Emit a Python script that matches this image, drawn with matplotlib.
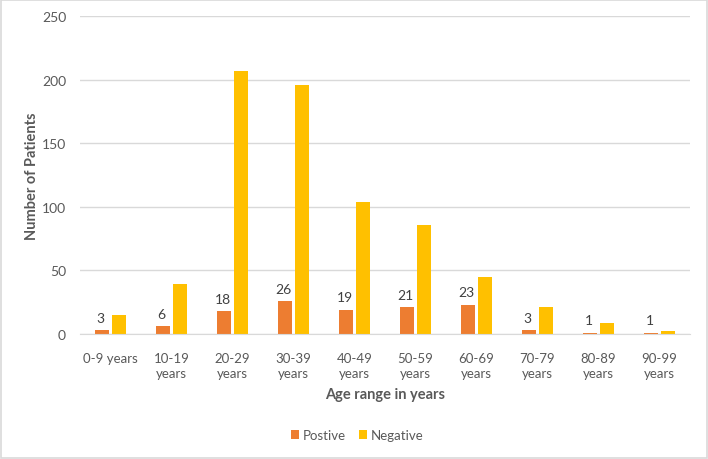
import numpy as np
import matplotlib
matplotlib.use("Agg")
import matplotlib.pyplot as plt
from matplotlib.patches import Rectangle

# data
categories = ["0-9 years", "10-19\nyears", "20-29\nyears", "30-39\nyears", "40-49\nyears",
              "50-59\nyears", "60-69\nyears", "70-79\nyears", "80-89\nyears", "90-99\nyears"]
positive = [3, 6, 18, 26, 19, 21, 23, 3, 1, 1]
negative = [15, 39, 207, 196, 104, 86, 45, 21, 9, 2]

plt.rcParams['font.family'] = ['Lato', 'DejaVu Sans']
gray = "#595959"

fig = plt.figure(figsize=(7.08, 4.6), dpi=100)
ax = fig.add_axes([80/708, 125/460, 610/708, 318/460])

x = np.arange(len(categories))
w = 0.23
b1 = ax.bar(x - 0.145, positive, w, color="#ED7D31", label="Postive", zorder=3)
b2 = ax.bar(x + 0.145, negative, w, color="#FFC000", label="Negative", zorder=3)

# labels on the positive bars only
for xi, v in zip(x, positive):
    ax.text(xi - 0.145 - 0.02, v + 5, str(v), ha="center", va="bottom",
            fontsize=10, color="#404040")

ax.set_xlim(-0.5, len(categories) - 0.5)
ax.set_ylim(0, 250)
ax.set_yticks(range(0, 251, 50))
ax.set_xticks(x)
ax.set_xticklabels(categories, linespacing=1.25)
ax.tick_params(axis="both", length=0, colors=gray, labelsize=9.5)
ax.tick_params(axis="x", pad=13)
ax.tick_params(axis="y", labelsize=10, pad=10)
ax.grid(axis="y", color="#D9D9D9", linewidth=1, zorder=0)
for s in ["top", "right", "left"]:
    ax.spines[s].set_visible(False)
ax.spines["bottom"].set_color("#D9D9D9")
ax.spines["bottom"].set_zorder(4)

ax.set_ylabel("Number of Patients", fontsize=10.5, fontweight="bold", color=gray, labelpad=2)
ax.set_xlabel("Age range in years", fontsize=10.5, fontweight="bold", color=gray, labelpad=6)

fig.legend(handles=[b1, b2], loc="center", bbox_to_anchor=(357/708, 1 - 436/460), ncol=2,
           frameon=False, fontsize=9.5, handlelength=0.6, handleheight=0.6,
           columnspacing=1.0, handletextpad=0.3, labelcolor=gray)

# light frame round the whole chart
fig.patches.append(Rectangle((0.002, 0.003), 0.996, 0.994, transform=fig.transFigure,
                             fill=False, edgecolor="#D9D9D9", linewidth=1.2))

fig.savefig("out.png", dpi=100)
